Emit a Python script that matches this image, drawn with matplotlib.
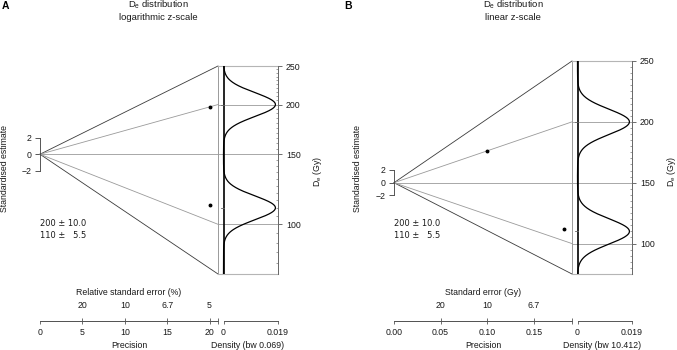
import numpy as np
import matplotlib
matplotlib.use("Agg")
import matplotlib.pyplot as plt
from matplotlib.ticker import FixedLocator, NullFormatter

plt.rcParams["font.family"] = ["Liberation Sans", "DejaVu Sans"]
plt.rcParams["mathtext.default"] = "regular"

W, H = 677, 350

# data
de_values = np.array([200.0, 110.0])
de_errors = np.array([10.0, 5.5])
z_central = 150.0
z_limits = [75.0, 250.0]
z_ticks = [100, 150, 200, 250]
z_minor = np.arange(75, 251, 5)
bw_log = 0.069
bw_lin = 10.412
prec_ticks_log = [0, 5, 10, 15, 20]
prec_labels_log = ["0", "5", "10", "15", "20"]
prec_ticks_lin = [0.0, 0.05, 0.10, 0.15]
prec_labels_lin = ["0.00", "0.05", "0.10", "0.15"]
rse_ticks = [5, 10, 15, 20]
rse_labels = ["20", "10", "6.7", "5"]
se_ticks = [0.05, 0.10, 0.15]
se_labels = ["20", "10", "6.7"]
density_labels = ["0", "0.019"]

EDGE = "#3a3a3a"
GRID = "#9a9a9a"
LIGHT = "#b5b5b5"
TXT = "#1a1a1a"
AXIS_Y = 321  # pixel row of the bottom axes
FS = 6.3


def rect(x0, y0, x1, y1):
    return [x0 / W, 1 - y1 / H, (x1 - x0) / W, (y1 - y0) / H]


def draw_panel(fig, log_z, left, right, top, bottom, letter, letter_x, title_x,
               subtitle, prec_ticks, prec_labels, top_ticks, top_labels, top_title,
               bw, ylab_x, zlab_x):
    if log_z:
        z = np.log(de_values)
        z0 = np.log(z_central)
        se = de_errors / de_values
        to_z = np.log
    else:
        z = de_values
        z0 = z_central
        se = de_errors
        to_z = lambda v: np.asarray(v, dtype=float)
    prec = 1 / se
    p_max = prec.max() * 1.05

    def std(v):
        return (to_z(v) - z0) * p_max

    lo, hi = z_limits
    off = (AXIS_Y - bottom) * 0.72

    # radial part
    ax = fig.add_axes(rect(left, top, right, bottom))
    ax.set_xlim(0, p_max)
    ax.set_ylim(std(lo), std(hi))
    ax.patch.set_visible(False)
    for s in ["top", "right"]:
        ax.spines[s].set_visible(False)
    ax.spines["left"].set_bounds(-2, 2)
    ax.spines["left"].set_color(EDGE)
    ax.spines["left"].set_linewidth(0.6)
    ax.spines["bottom"].set_position(("outward", off))
    ax.spines["bottom"].set_color("#555555")
    ax.spines["bottom"].set_linewidth(0.7)
    ax.set_yticks([-2, 0, 2])
    ax.tick_params(axis="y", length=3.5, width=0.6, color=EDGE, pad=2.5,
                   labelsize=FS, labelcolor=TXT)
    ax.set_xticks(prec_ticks + [p_max], labels=prec_labels + [""])
    ax.tick_params(axis="x", length=2.2, width=0.6, color="#555555", pad=3,
                   labelsize=FS, labelcolor=TXT)
    ax.set_xlabel("Precision", fontsize=FS, color=TXT, labelpad=3)

    sec = ax.secondary_xaxis(-(AXIS_Y - bottom) / (bottom - top))
    sec.set_alignment("top")
    sec.set_xticks(top_ticks + [p_max], labels=top_labels + [""])
    sec.tick_params(axis="x", length=2.2, width=0.6, color="#555555", pad=5.5,
                    labelsize=FS, labelcolor=TXT)
    sec.spines["top"].set_color("#555555")
    sec.spines["top"].set_linewidth(0.7)
    sec.set_xlabel(top_title, fontsize=FS, color=TXT, labelpad=4.5)

    ax.plot([0, p_max], [0, std(hi)], color=EDGE, lw=0.6, clip_on=False)
    ax.plot([0, p_max], [0, std(lo)], color=EDGE, lw=0.6, clip_on=False)
    ax.plot([p_max, p_max], [std(lo), std(hi)], color=GRID, lw=0.7, clip_on=False)
    for t in z_ticks[:-1]:
        ax.plot([0, p_max], [0, std(t)], color=GRID, lw=0.6, clip_on=False)
    ax.plot(prec, (z - z0) * prec, "o", ms=1.8, color="k", clip_on=False)

    # density part
    gap, dw = 5.5, 54
    axd = fig.add_axes(rect(right, top, right + gap + dw, bottom))
    axd.patch.set_visible(False)
    if log_z:
        axd.set_yscale("log")
    axd.set_ylim(lo, hi)
    grid = np.linspace(to_z(lo), to_z(hi), 600)
    dens = np.exp(-0.5 * ((grid[:, None] - z[None, :]) / bw) ** 2).sum(1)
    dens /= len(z) * bw * np.sqrt(2 * np.pi)
    yv = np.exp(grid) if log_z else grid
    dmax = dens.max() * 1.04
    axd.set_xlim(-gap / dw * dmax, dmax)
    for t in z_ticks[:-1]:
        axd.axhline(t, color=GRID, lw=0.6)
    axd.axhline(hi, color=LIGHT, lw=0.8, clip_on=False)
    axd.axhline(lo, color=LIGHT, lw=0.8, clip_on=False)
    axd.axvline(0, color="k", lw=1.2)
    axd.plot(dens, yv, color="k", lw=0.9)
    for v in de_values:
        axd.plot([-0.05 * dmax, 0], [v, v], color="#666666", lw=0.6)

    for s in ["top", "left"]:
        axd.spines[s].set_visible(False)
    axd.spines["right"].set_color("#666666")
    axd.spines["right"].set_linewidth(0.7)
    axd.spines["bottom"].set_position(("outward", off))
    axd.spines["bottom"].set_bounds(0, dmax)
    axd.spines["bottom"].set_color("#555555")
    axd.spines["bottom"].set_linewidth(0.7)
    axd.yaxis.tick_right()
    axd.set_yticks(z_ticks, labels=[str(t) for t in z_ticks])
    axd.yaxis.set_minor_locator(FixedLocator(z_minor))
    axd.yaxis.set_minor_formatter(NullFormatter())
    axd.tick_params(axis="y", which="major", length=3, width=0.6, color="#555555",
                    pad=3, labelsize=FS, labelcolor=TXT)
    axd.tick_params(axis="y", which="minor", direction="in", length=1.5,
                    width=0.5, color="#777777")
    axd.set_xticks([0, dmax], labels=density_labels)
    axd.tick_params(axis="x", length=2.2, width=0.6, color="#555555", pad=3,
                    labelsize=FS, labelcolor=TXT)
    axd.set_xlabel(f"Density (bw {bw})", fontsize=FS, color=TXT, labelpad=3)

    # texts
    fig.text(letter_x / W, 1 - 6 / H, letter, fontsize=7.5, fontweight="bold",
             ha="left", va="center")
    fig.text(title_x / W, 1 - 5 / H, "$D_e$ distribution", fontsize=6.8,
             ha="center", va="center", color=TXT)
    fig.text(title_x / W, 1 - 17 / H, subtitle, fontsize=6.8, ha="center",
             va="center", color=TXT)
    fig.text(ylab_x / W, 1 - 169 / H, "Standardised estimate", rotation=90,
             fontsize=FS, ha="center", va="center", color=TXT)
    fig.text(zlab_x / W, 1 - 171 / H, "$D_e$ (Gy)", rotation=90,
             fontsize=FS, ha="center", va="center", color=TXT)
    for i, (v, e) in enumerate(zip(de_values, de_errors)):
        s = f"{e:.1f}"
        line = f"{v:.0f} ± " + "  " * (4 - len(s)) + s
        fig.text(left / W, 1 - (224 + 11.5 * i) / H, line, family="DejaVu Sans",
                 fontsize=6.0, ha="left", va="center", color=TXT)


fig = plt.figure(figsize=(W / 100, H / 100), dpi=100)
draw_panel(fig, True, 40, 218, 66, 274, "A", 2, 158, "logarithmic z-scale",
           prec_ticks_log, prec_labels_log, rse_ticks, rse_labels,
           "Relative standard error (%)", bw_log, 5, 317)
draw_panel(fig, False, 394, 572, 61, 274, "B", 344, 513, "linear z-scale",
           prec_ticks_lin, prec_labels_lin, se_ticks, se_labels,
           "Standard error (Gy)", bw_lin, 358, 671)
fig.savefig("out.png", dpi=100)
